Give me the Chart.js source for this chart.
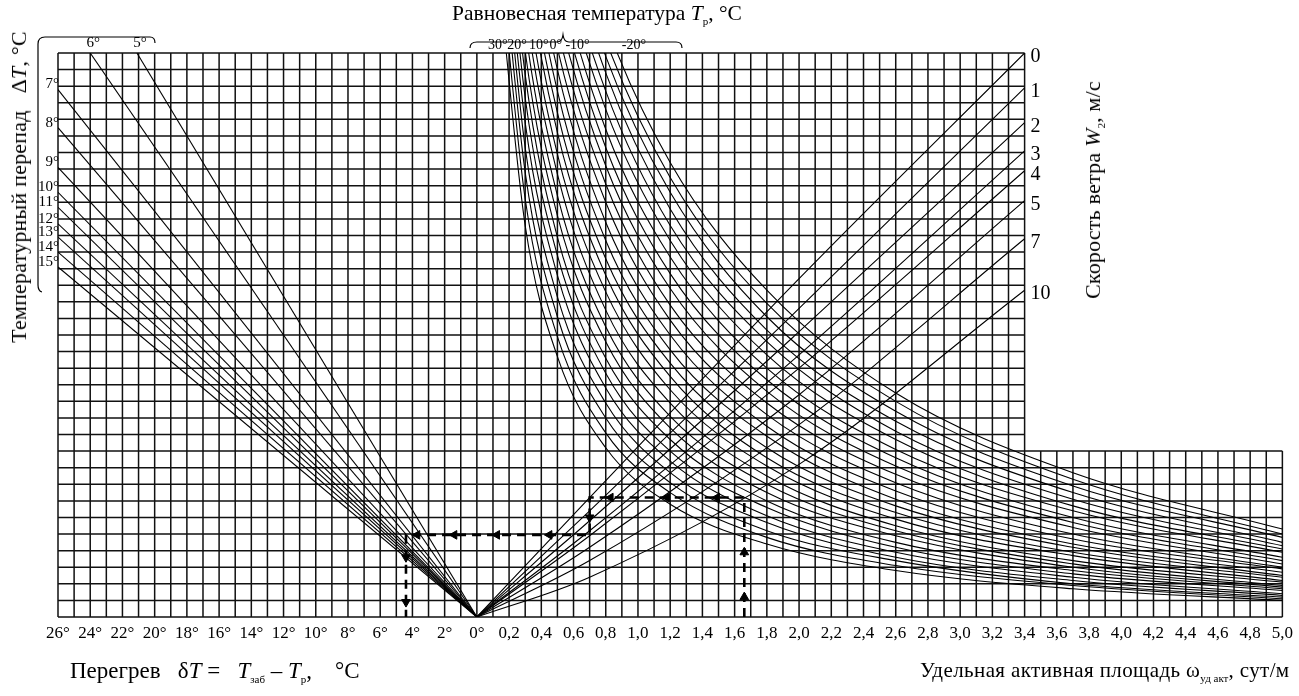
<!DOCTYPE html>
<html lang="ru">
<head>
<meta charset="utf-8">
<title>Номограмма</title>
<script src="https://cdn.jsdelivr.net/npm/chart.js@4.4.1/dist/chart.umd.min.js"></script>
<style>
  html, body { margin: 0; padding: 0; background: #fff; }
  #wrap { position: relative; width: 1299px; height: 696px; }
  .lbl { position: absolute; font-family: "Liberation Serif", "Times New Roman", serif; font-size: 22px; letter-spacing: 0.2px; color: #000; white-space: nowrap; line-height: 1; }
  .lbl sub { font-size: 11px; vertical-align: -5px; line-height: 0; letter-spacing: 0; }
  .rot { transform: translate(-50%, -50%) rotate(-90deg); }
</style>
</head>
<body>
<div id="wrap">
  <canvas id="nomogram" width="1299" height="696"></canvas>
  <div class="lbl" style="left:452px; top:3px; font-size:21.5px; letter-spacing:0;">Равновесная температура <i>T</i><sub>р</sub>, °C</div>
  <div class="lbl rot" style="left:19px; top:187px;">Температурный перепад&nbsp;&nbsp; Δ<i>T</i>, °C</div>
  <div class="lbl rot" style="left:1093px; top:190px;">Скорость ветра <i>W</i><sub>2</sub>, м/с</div>
  <div class="lbl" style="left:70px; top:659px; font-size:23px; letter-spacing:0;">Перегрев&nbsp;&nbsp; δ<i>T</i> =&nbsp;&nbsp; <i>T</i><sub>заб</sub> – <i>T</i><sub>р</sub>,&nbsp;&nbsp;&nbsp; °C</div>
  <div class="lbl" style="left:920px; top:660px; font-size:21px; letter-spacing:0.4px;">Удельная активная площадь ω<sub>уд акт</sub>, сут/м</div>
</div>
<script>
// bottom scale: left half is overheat in degrees, right half is area in 0.1 steps
const tickValues = [-26, -24, -22, -20, -18, -16, -14, -12, -10, -8, -6, -4, -2, 0,
  2, 4, 6, 8, 10, 12, 14, 16, 18, 20, 22, 24, 26, 28, 30, 32, 34, 36, 38, 40, 42, 44, 46, 48, 50];
const tickLabels = ['26°', '24°', '22°', '20°', '18°', '16°', '14°', '12°', '10°', '8°', '6°', '4°', '2°', '0°',
  '0,2', '0,4', '0,6', '0,8', '1,0', '1,2', '1,4', '1,6', '1,8', '2,0', '2,2', '2,4', '2,6', '2,8', '3,0',
  '3,2', '3,4', '3,6', '3,8', '4,0', '4,2', '4,4', '4,6', '4,8', '5,0'];

// temperature difference lines (from the origin to the edge)
const deltaTLabels = ['5°', '6°', '7°', '8°', '9°', '10°', '11°', '12°', '13°', '14°', '15°'];
const deltaTEndX = [-21.1, -24.0, -26, -26, -26, -26, -26, -26, -26, -26, -26];
const deltaTEndY = [34, 34, 31.8, 29.5, 27.1, 25.6, 24.7, 23.7, 22.9, 22.0, 21.1];

// wind speed lines
const windLabels = ['0', '1', '2', '3', '4', '5', '7', '10'];
const windX = [0, 7, 20, 34];
const windY = [
  [0, 7.2, 20.4, 34.0],
  [0, 6.4, 18.6, 31.9],
  [0, 5.8, 17.2, 29.8],
  [0, 5.2, 15.8, 28.1],
  [0, 4.9, 15.0, 26.9],
  [0, 4.2, 13.4, 25.1],
  [0, 3.4, 11.6, 22.8],
  [0, 2.4, 9.2, 19.7]
];

// equilibrium temperature curves, 30° down to -20° every 2°
const tpLabels = ['30°', '28°', '26°', '24°', '22°', '20°', '18°', '16°', '14°', '12°', '10°', '8°', '6°',
  '4°', '2°', '0°', '-2°', '-4°', '-6°', '-8°', '-10°', '-12°', '-14°', '-16°', '-18°', '-20°'];
const tpX = [1.5, 3, 5, 8, 12, 18, 26, 37, 50];
const tpY = [
  [37.1, 23.6, 15.7, 10.2, 6.8, 4.4, 2.8, 1.7, 1.0],
  [39.0, 25.2, 16.9, 11.1, 7.5, 4.8, 3.1, 1.9, 1.1],
  [40.9, 26.8, 18.1, 12.0, 8.1, 5.2, 3.4, 2.0, 1.2],
  [42.5, 28.3, 19.3, 12.9, 8.7, 5.7, 3.6, 2.2, 1.3],
  [44.2, 29.8, 20.6, 13.8, 9.4, 6.1, 3.9, 2.4, 1.4],
  [45.8, 31.3, 21.8, 14.7, 10.0, 6.6, 4.2, 2.6, 1.6],
  [47.1, 32.7, 22.9, 15.6, 10.7, 7.0, 4.5, 2.8, 1.7],
  [48.5, 34.1, 24.2, 16.6, 11.4, 7.5, 4.9, 3.0, 1.8],
  [49.8, 35.5, 25.4, 17.5, 12.1, 8.0, 5.2, 3.2, 1.9],
  [51.1, 36.9, 26.7, 18.5, 12.9, 8.5, 5.5, 3.4, 2.1],
  [52.4, 38.3, 27.9, 19.6, 13.7, 9.1, 5.9, 3.7, 2.2],
  [53.6, 39.7, 29.2, 20.6, 14.5, 9.6, 6.3, 3.9, 2.4],
  [54.7, 41.0, 30.4, 21.6, 15.3, 10.2, 6.7, 4.2, 2.5],
  [55.8, 42.3, 31.7, 22.7, 16.1, 10.9, 7.1, 4.4, 2.7],
  [56.8, 43.6, 33.0, 23.8, 17.0, 11.5, 7.6, 4.7, 2.9],
  [57.8, 44.9, 34.3, 25.0, 17.9, 12.2, 8.1, 5.0, 3.0],
  [58.7, 46.1, 35.5, 26.1, 18.8, 12.9, 8.6, 5.4, 3.2],
  [59.5, 47.2, 36.7, 27.2, 19.8, 13.6, 9.1, 5.7, 3.4],
  [60.4, 48.4, 38.0, 28.3, 20.7, 14.3, 9.6, 6.0, 3.6],
  [61.1, 49.4, 39.2, 29.4, 21.7, 15.0, 10.1, 6.4, 3.9],
  [61.7, 50.5, 40.3, 30.6, 22.7, 15.8, 10.7, 6.7, 4.1],
  [62.3, 51.4, 41.4, 31.7, 23.6, 16.6, 11.2, 7.1, 4.3],
  [62.8, 52.3, 42.5, 32.8, 24.6, 17.3, 11.8, 7.5, 4.5],
  [63.2, 53.1, 43.5, 33.8, 25.6, 18.1, 12.4, 7.9, 4.8],
  [63.6, 53.9, 44.5, 34.8, 26.5, 18.9, 13.0, 8.3, 5.0],
  [63.9, 54.6, 45.4, 35.8, 27.4, 19.7, 13.5, 8.7, 5.3]
];

// worked example (dashed key)
const exampleX = [16.6, 16.6, 7.0, 7.0, -4.4, -4.4];
const exampleY = [0, 7.2, 7.2, 4.95, 4.95, 0];
const arrowX = [16.6, 16.6, 8.3, 11.8, 14.9, 7.0, 4.5, 1.25, -1.4, -3.7, -4.4, -4.4];
const arrowY = [1.2, 3.9, 7.2, 7.2, 7.2, 6.0, 4.95, 4.95, 4.95, 4.95, 3.6, 0.9];
const arrowDir = ['up', 'up', 'left', 'left', 'left', 'down', 'left', 'left', 'left', 'left', 'down', 'down'];

const GRID_RIGHT = 34;   // main grid ends at 3,4
const EXT_TOP = 10;      // lower right extension is 10 rows high
const FONT = '"Liberation Serif", "Times New Roman", serif';
const INK = '#000';

Chart.defaults.font.family = FONT;
Chart.defaults.color = INK;

const gridPlugin = {
  id: 'nomoGrid',
  beforeDatasetsDraw(chart) {
    const {ctx, scales: {x, y}} = chart;
    ctx.save();
    ctx.strokeStyle = '#111';
    ctx.lineWidth = 1.5;
    ctx.beginPath();
    for (let v = -26; v <= 50; v++) {
      const px = x.getPixelForValue(v);
      ctx.moveTo(px, y.getPixelForValue(0));
      ctx.lineTo(px, y.getPixelForValue(v <= GRID_RIGHT ? 34 : EXT_TOP));
    }
    for (let r = 0; r <= 34; r++) {
      const py = y.getPixelForValue(r);
      ctx.moveTo(x.getPixelForValue(-26), py);
      ctx.lineTo(x.getPixelForValue(r <= EXT_TOP ? 50 : GRID_RIGHT), py);
    }
    ctx.stroke();
    ctx.restore();
  },
  afterDraw(chart) {
    const {ctx, chartArea: area, scales: {x, y}} = chart;
    ctx.save();
    ctx.fillStyle = INK;
    ctx.textBaseline = 'middle';

    // temperature difference labels
    ctx.font = '15px ' + FONT;
    deltaTLabels.forEach((t, i) => {
      if (deltaTEndY[i] >= 34) {
        ctx.textAlign = 'center';
        ctx.fillText(t, x.getPixelForValue(deltaTEndX[i]) + 3, area.top - 10);
      } else {
        ctx.textAlign = 'right';
        ctx.fillText(t, area.left + 1, y.getPixelForValue(deltaTEndY[i]) - 5);
      }
    });

    // wind speed labels at the right edge of the main grid
    ctx.font = '20px ' + FONT;
    ctx.textAlign = 'left';
    windLabels.forEach((t, i) => {
      const row = windY[i];
      ctx.fillText(t, x.getPixelForValue(GRID_RIGHT) + 6, y.getPixelForValue(row[row.length - 1]) + 4);
    });

    // equilibrium temperature labels, every 10°
    ctx.font = '14px ' + FONT;
    ctx.textAlign = 'center';
    const tpLabelAt = [1.3, 2.5, 3.85, 4.9, 6.25, 9.75];
    tpLabelAt.forEach((v, j) => {
      ctx.fillText(tpLabels[j * 5], x.getPixelForValue(v), area.top - 8);
    });

    // braces
    ctx.strokeStyle = INK;
    ctx.lineWidth = 1.2;
    ctx.beginPath();
    ctx.moveTo(42, 292);
    ctx.quadraticCurveTo(38, 291, 38, 285);
    ctx.lineTo(38, 44);
    ctx.quadraticCurveTo(38, 37, 45, 37);
    ctx.lineTo(150, 37);
    ctx.quadraticCurveTo(155, 37, 155, 43);
    ctx.stroke();

    ctx.beginPath();
    ctx.moveTo(470, 48);
    ctx.quadraticCurveTo(470, 42, 477, 42);
    ctx.lineTo(557, 42);
    ctx.quadraticCurveTo(562, 42, 563, 35);
    ctx.quadraticCurveTo(564, 42, 569, 42);
    ctx.lineTo(676, 42);
    ctx.quadraticCurveTo(682, 42, 682, 48);
    ctx.stroke();
    ctx.restore();
  }
};

const datasets = [];
tpY.forEach((row, k) => {
  datasets.push({
    label: 'Tp ' + tpLabels[k],
    data: tpX.map((v, i) => ({x: v, y: row[i]})),
    borderColor: INK, borderWidth: 1.1,
    cubicInterpolationMode: 'monotone'
  });
});
windY.forEach((row, k) => {
  datasets.push({
    label: 'W ' + windLabels[k],
    data: windX.map((v, i) => ({x: v, y: row[i]})),
    borderColor: INK, borderWidth: 1.1,
    cubicInterpolationMode: 'monotone'
  });
});
deltaTLabels.forEach((t, i) => {
  datasets.push({
    label: 'dT ' + t,
    data: [{x: 0, y: 0}, {x: deltaTEndX[i], y: deltaTEndY[i]}],
    borderColor: INK, borderWidth: 1.1
  });
});
datasets.push({
  label: 'example',
  data: exampleX.map((v, i) => ({x: v, y: exampleY[i]})),
  borderColor: INK,
  borderWidth: 2.6,
  borderDash: [9, 6]
});
datasets.push({
  label: 'arrows',
  data: arrowX.map((v, i) => ({x: v, y: arrowY[i]})),
  showLine: false,
  pointStyle: 'triangle',
  pointRadius: 5,
  pointBackgroundColor: INK,
  pointBorderColor: INK,
  pointBorderWidth: 1,
  pointRotation: arrowDir.map(d => ({up: 0, left: 270, down: 180})[d])
});

const nomogram = new Chart(document.querySelector('#nomogram'), {
  type: 'scatter',
  data: {datasets: datasets},
  options: {
    responsive: false,
    animation: false,
    layout: {padding: {left: 58, right: 16, top: 53, bottom: 0}},
    datasets: {
      scatter: {showLine: true, pointRadius: 0, fill: false}
    },
    plugins: {legend: {display: false}, tooltip: {enabled: false}, colors: {enabled: false}},
    scales: {
      x: {
        type: 'linear', min: -26, max: 50,
        afterBuildTicks: s => { s.ticks = tickValues.map(v => ({value: v})); },
        afterFit: s => { s.height = 79; },
        grid: {display: false, drawTicks: false},
        border: {display: false},
        ticks: {
          callback: (v, i) => tickLabels[i],
          autoSkip: false, maxRotation: 0, padding: 6,
          font: {size: 17}, color: INK
        }
      },
      y: {type: 'linear', min: 0, max: 34, display: false}
    }
  },
  plugins: [gridPlugin]
});
</script>
</body>
</html>
